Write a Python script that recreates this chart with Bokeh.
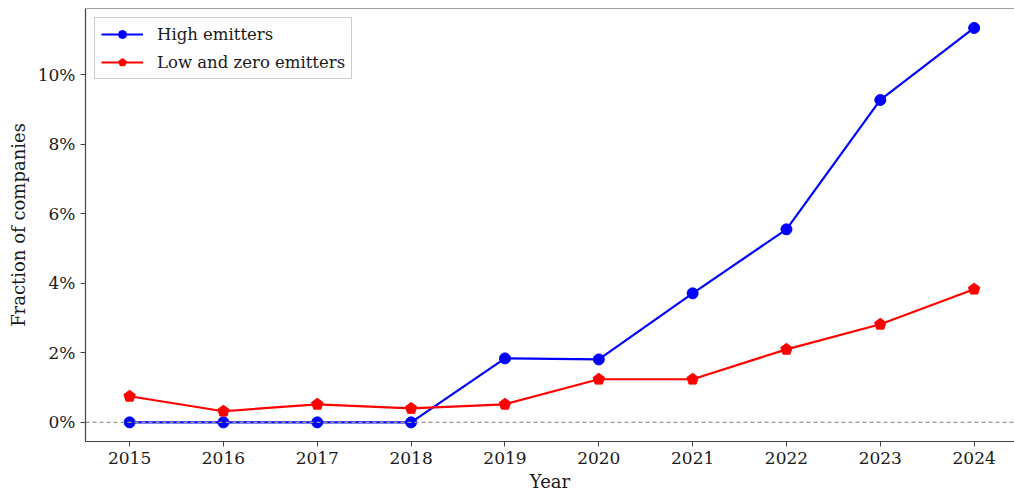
from bokeh.plotting import figure
from bokeh.models import (ColumnDataSource, Legend, LegendItem, Span,
                          NumeralTickFormatter, FixedTicker, Range1d)
from bokeh.embed import file_html
from bokeh.resources import INLINE

years = [2015, 2016, 2017, 2018, 2019, 2020, 2021, 2022, 2023, 2024]
high_emitters = [0.0, 0.0, 0.0, 0.0, 0.0184, 0.0181, 0.0371, 0.0555, 0.0927, 0.1134]
low_zero_emitters = [0.0075, 0.0032, 0.0052, 0.0040, 0.0052, 0.0124, 0.0124, 0.0210, 0.0282, 0.0383]
y_ticks = [0.0, 0.02, 0.04, 0.06, 0.08, 0.10]

FONT = "DejaVu Serif"
TEXT = "#1a1a1a"
Y_TOP = 0.119

src = ColumnDataSource(dict(year=years, high=high_emitters, low=low_zero_emitters))

p = figure(width=1014, height=496, output_backend="svg", toolbar_location=None,
           x_range=Range1d(2014.53, 2024.43), y_range=Range1d(-0.0055, Y_TOP),
           min_border_left=85, min_border_right=0, min_border_top=8,
           min_border_bottom=55)

p.xgrid.visible = False
p.ygrid.visible = False
p.outline_line_color = None

# top frame edge (the right edge runs off the canvas)
p.add_layout(Span(location=Y_TOP, dimension="width", line_color="#444444",
                  line_width=1.2))

# zero reference line
p.add_layout(Span(location=0, dimension="width", line_color="#999999",
                  line_dash="4 3", line_width=1.2))

hl = p.line("year", "high", source=src, line_color="#0000ff", line_width=2.2)
hm = p.scatter("year", "high", source=src, size=11, marker="circle",
               fill_color="#0000ff", line_color="#0000ff")

ll = p.line("year", "low", source=src, line_color="#ff0000", line_width=2.2)
lm = p.ngon("year", "low", source=src, radius=6, radius_units="screen", n=5,
            angle=0, fill_color="#ff0000", line_color="#ff0000")

legend = Legend(items=[LegendItem(label="High emitters", renderers=[hl, hm]),
                       LegendItem(label="Low and zero emitters", renderers=[ll, lm])],
                location="top_left")
legend.label_text_font = FONT
legend.label_text_font_size = "16.5px"
legend.label_text_color = TEXT
legend.label_standoff = 14
legend.border_line_color = "#cccccc"
legend.border_line_alpha = 1
legend.background_fill_alpha = 0.9
legend.glyph_width = 42
legend.spacing = 8
legend.padding = 6
legend.margin = 9
p.add_layout(legend)

for ax in (p.xaxis[0], p.yaxis[0]):
    ax.major_label_text_font = FONT
    ax.major_label_text_font_size = "17px"
    ax.major_label_text_color = TEXT
    ax.axis_label_text_font = FONT
    ax.axis_label_text_font_size = "18px"
    ax.axis_label_text_font_style = "normal"
    ax.axis_label_text_color = TEXT
    ax.minor_tick_line_color = None
    ax.major_tick_in = 0
    ax.major_tick_out = 5
    ax.axis_line_color = "#444444"
    ax.axis_line_width = 1.2
    ax.major_tick_line_color = "#444444"

p.xaxis.ticker = FixedTicker(ticks=years)
p.xaxis.axis_label = "Year"
p.xaxis.axis_label_standoff = 4
p.yaxis.ticker = FixedTicker(ticks=y_ticks)
p.yaxis.formatter = NumeralTickFormatter(format="0%")
p.yaxis.axis_label = "Fraction of companies"
p.yaxis.axis_label_standoff = 6

open("out.html", "w").write(file_html(p, INLINE))
